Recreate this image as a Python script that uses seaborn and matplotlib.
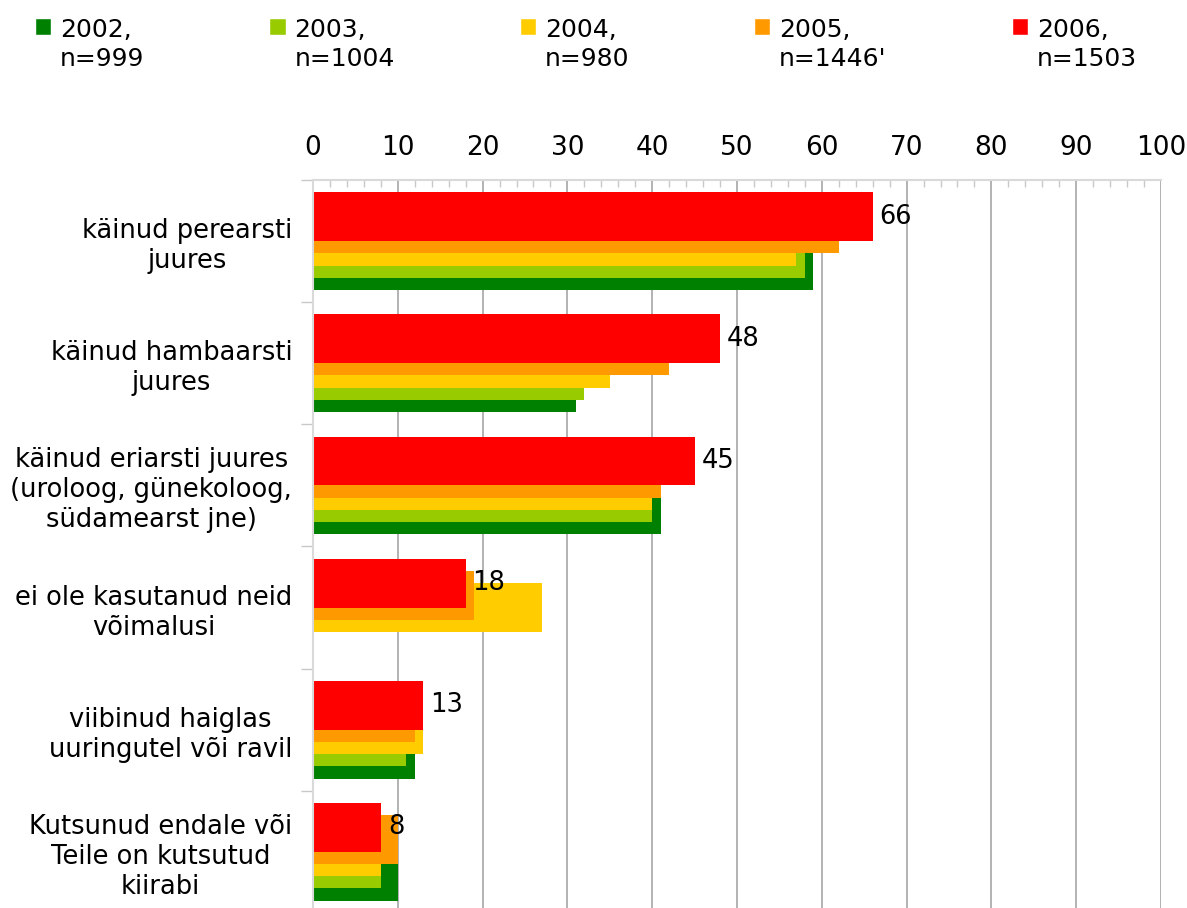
import pandas as pd
import matplotlib
matplotlib.use("Agg")
import matplotlib.pyplot as plt
import seaborn as sns
from matplotlib.patches import Patch, Rectangle
from matplotlib.legend_handler import HandlerPatch
from matplotlib.ticker import MultipleLocator

# categories, top to bottom
categories = [
    "käinud perearsti\njuures",
    "käinud hambaarsti\njuures",
    "käinud eriarsti juures\n(uroloog, günekoloog,\nsüdamearst jne)",
    "ei ole kasutanud neid\nvõimalusi",
    "viibinud haiglas\nuuringutel või ravil",
    "Kutsunud endale või\nTeile on kutsutud\nkiirabi",
]

years = ["2002", "2003", "2004", "2005", "2006"]
year_labels = ["2002,\nn=999", "2003,\nn=1004", "2004,\nn=980", "2005,\nn=1446'", "2006,\nn=1503"]
colors = ["#008000", "#99cc00", "#ffcc00", "#ff9900", "#ff0000"]

# None = no bar for that year
v2002 = [59, 31, 41, None, 12, 10]
v2003 = [58, 32, 40, None, 11, 8]
v2004 = [57, 35, 40, 27, 13, 8]
v2005 = [62, 42, 41, 19, 12, 10]
v2006 = [66, 48, 45, 18, 13, 8]
values = [v2002, v2003, v2004, v2005, v2006]

sns.set_theme(style="white")
plt.rcParams["font.family"] = ["DejaVu Sans"]
plt.rcParams["text.color"] = "black"
plt.rcParams["xtick.color"] = "black"
plt.rcParams["ytick.color"] = "black"

fig = plt.figure(figsize=(11.87, 9.08), dpi=100)
ax = fig.add_axes([313 / 1187, 0.0, (1161 - 313) / 1187, 1 - 180 / 908])

# overlapping bars: each later year shifted up a bit and drawn on top
step = 0.1
for i, (yr, vals, col) in enumerate(zip(years, values, colors)):
    rows = [(k + (2 - i) * step, v) for k, v in enumerate(vals) if v is not None]
    df = pd.DataFrame(rows, columns=["pos", "value"])
    sns.barplot(data=df, x="value", y="pos", orient="y", native_scale=True,
                color=col, saturation=1, width=0.4, linewidth=0, ax=ax)

# value labels only for the last year
ax.bar_label(ax.containers[-1], fmt="%g", padding=5, fontsize=18.5, color="black")

ax.set_xlim(0, 100)
ax.set_ylim(5.46, -0.5)
ax.xaxis.tick_top()
ax.xaxis.set_major_locator(MultipleLocator(10))
ax.xaxis.set_minor_locator(MultipleLocator(2))
ax.tick_params(axis="x", which="major", direction="in", length=0, pad=14,
               labelsize=19, labelcolor="black")
ax.tick_params(axis="x", which="minor", direction="in", length=5, color="#c8c8c8",
               top=True, bottom=False)
ax.grid(axis="x", which="major", color="#a6a6a6", linewidth=1.2)
ax.set_axisbelow(True)

ax.set_yticks(range(len(categories)))
ax.set_yticklabels(categories, fontsize=18.5, color="black")
for lab in ax.get_yticklabels():
    lab.set_multialignment("center")
ax.yaxis.set_minor_locator(MultipleLocator(1, offset=0.5))
ax.tick_params(axis="y", which="major", length=0, pad=15)
ax.tick_params(axis="y", which="minor", direction="out", length=9, color="#c8c8c8",
               left=True)

ax.set_xlabel("")
ax.set_ylabel("")
for side in ["right", "bottom"]:
    ax.spines[side].set_visible(False)
ax.spines["top"].set_color("#d9d9d9")
ax.spines["top"].set_linewidth(1.5)
ax.spines["left"].set_color("#d9d9d9")
ax.spines["left"].set_linewidth(1.5)


# legend: square next to the first line of a two line label
def top_square(legend, orig_handle, xdescent, ydescent, width, height, fontsize):
    return Rectangle((-xdescent, -ydescent + 0.78 * fontsize), width, width)


handles = [Patch(facecolor=c) for c in colors]
leg = fig.legend(handles, year_labels, loc="upper left", bbox_to_anchor=(0.021, 0.991),
                 ncol=5, frameon=False, fontsize=18, handlelength=0.65,
                 handletextpad=0.35, columnspacing=5.0, borderaxespad=0,
                 handler_map={Patch: HandlerPatch(patch_func=top_square)})
for t in leg.get_texts():
    t.set_linespacing(1.25)
    t.set_color("black")

fig.savefig("out.png", dpi=100)
